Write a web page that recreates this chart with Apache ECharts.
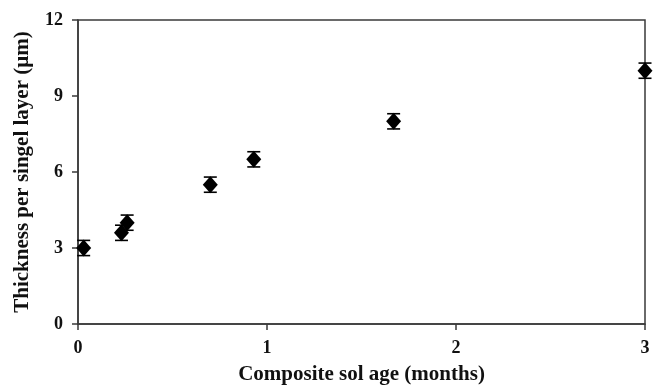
<!DOCTYPE html>
<html>
<head>
<meta charset="utf-8">
<script src="https://cdn.jsdelivr.net/npm/echarts@6/dist/echarts.min.js"></script>
<style>html,body{margin:0;padding:0;background:#fff;}#chart{width:653px;height:388px;}</style>
</head>
<body>
<div id="chart"></div>
<script>
const ageMonths = [0.03, 0.23, 0.26, 0.70, 0.93, 1.67, 3.00];
const thickness = [3.0, 3.6, 4.0, 5.5, 6.5, 8.0, 10.0];
const errors = [0.3, 0.3, 0.3, 0.3, 0.3, 0.3, 0.3];
const xTicks = [0, 1, 2, 3];
const yTicks = [0, 3, 6, 9, 12];

const font = '"Liberation Serif", "Times New Roman", serif';
const axisColor = '#3a3a3a';

const points = ageMonths.map((x, i) => [x, thickness[i]]);
const errData = ageMonths.map((x, i) => [x, thickness[i] - errors[i], thickness[i] + errors[i]]);

const chart = echarts.init(document.getElementById('chart'));
chart.setOption({
  animation: false,
  backgroundColor: '#fff',
  grid: { left: 78, right: 8, top: 20, bottom: 64, containLabel: false, outerBoundsMode: 'none',
          show: true, borderColor: axisColor, borderWidth: 1.5 },
  xAxis: {
    type: 'value', min: xTicks[0], max: xTicks[xTicks.length - 1], interval: 1,
    name: 'Composite sol age (months)', nameLocation: 'middle', nameGap: 40,
    nameTextStyle: { fontFamily: font, fontWeight: 'bold', fontSize: 21, color: '#111' },
    axisLine: { lineStyle: { color: axisColor, width: 1.5 } },
    axisTick: { show: true, length: 6, lineStyle: { color: axisColor, width: 1.5 } },
    axisLabel: { fontFamily: font, fontWeight: 'bold', fontSize: 18, color: '#111', margin: 15 },
    splitLine: { show: false }
  },
  yAxis: {
    type: 'value', min: yTicks[0], max: yTicks[yTicks.length - 1], interval: 3,
    name: 'Thickness per singel layer (\u00b5m)', nameLocation: 'middle', nameGap: 45,
    nameTextStyle: { fontFamily: font, fontWeight: 'bold', fontSize: 21, color: '#111' },
    axisLine: { show: true, lineStyle: { color: axisColor, width: 1.5 } },
    axisTick: { show: true, length: 6, lineStyle: { color: axisColor, width: 1.5 } },
    axisLabel: { fontFamily: font, fontWeight: 'bold', fontSize: 18, color: '#111', margin: 15 },
    splitLine: { show: false }
  },
  series: [
    {
      type: 'custom',
      data: errData,
      z: 3,
      clip: false,
      renderItem: function (params, api) {
        const x = api.value(0);
        const lo = api.coord([x, api.value(1)]);
        const hi = api.coord([x, api.value(2)]);
        const hw = 6.5;
        const style = { stroke: '#000', lineWidth: 1.6 };
        return {
          type: 'group',
          children: [
            { type: 'line', shape: { x1: lo[0], y1: lo[1], x2: hi[0], y2: hi[1] }, style: style },
            { type: 'line', shape: { x1: lo[0] - hw, y1: lo[1], x2: lo[0] + hw, y2: lo[1] }, style: style },
            { type: 'line', shape: { x1: hi[0] - hw, y1: hi[1], x2: hi[0] + hw, y2: hi[1] }, style: style }
          ]
        };
      }
    },
    {
      type: 'scatter',
      data: points,
      symbol: 'diamond',
      symbolSize: [15, 17],
      itemStyle: { color: '#000', opacity: 1 },
      z: 4,
      clip: false
    }
  ]
});
</script>
</body>
</html>
